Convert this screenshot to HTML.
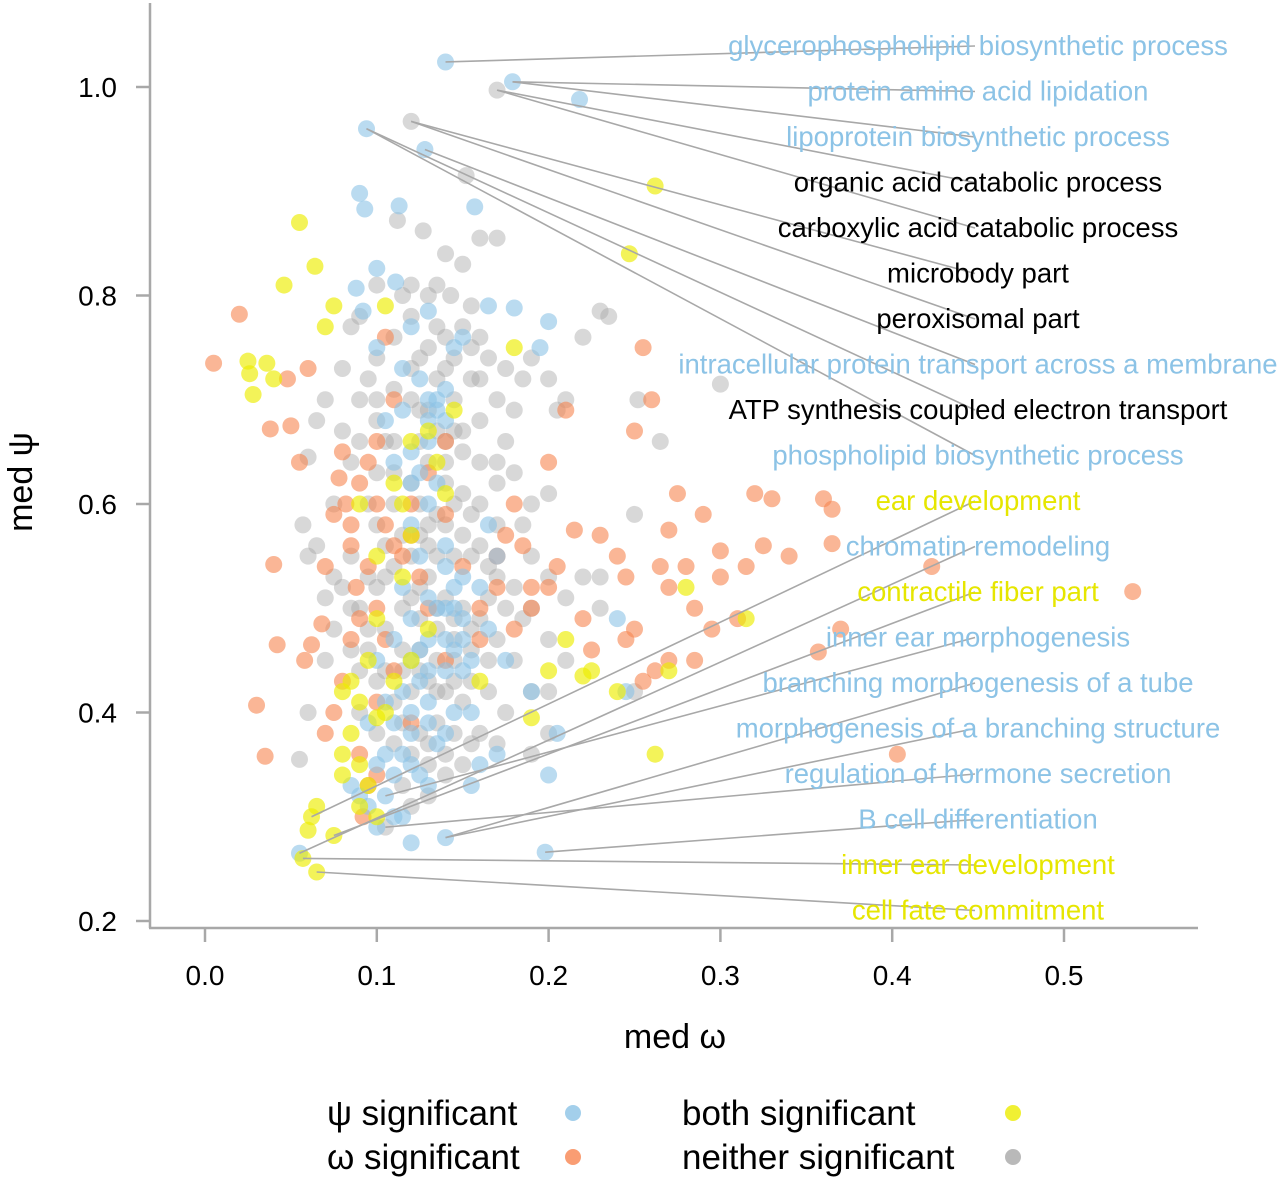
<!DOCTYPE html>
<html><head><meta charset="utf-8"><style>
html,body{margin:0;padding:0;background:#fff}
svg{display:block;font-family:"Liberation Sans",sans-serif}
</style></head><body>
<svg id="chart" width="1280" height="1180" viewBox="0 0 1280 1180" xmlns="http://www.w3.org/2000/svg">
<g id="points"></g>
<g id="leaders"></g>
<g id="axes"></g>
<g id="labels"></g>
<g id="legend"></g>
</svg>
<script>
const xTicks=[0.0,0.1,0.2,0.3,0.4,0.5];
const yTicks=[0.2,0.4,0.6,0.8,1.0];
const grayPts=[[0.17,0.997],[0.12,0.967],[0.152,0.915],[0.112,0.872],[0.127,0.862],[0.135,0.81],[0.14,0.84],[0.15,0.83],[0.16,0.855],[0.17,0.855],[0.155,0.79],[0.143,0.8],[0.09,0.78],[0.085,0.77],[0.1,0.74],[0.11,0.76],[0.12,0.78],[0.13,0.75],[0.14,0.73],[0.16,0.72],[0.17,0.7],[0.18,0.69],[0.19,0.74],[0.2,0.72],[0.21,0.7],[0.205,0.69],[0.22,0.76],[0.23,0.785],[0.235,0.78],[0.3,0.715],[0.252,0.70],[0.265,0.66],[0.07,0.7],[0.065,0.68],[0.06,0.645],[0.057,0.58],[0.065,0.56],[0.075,0.53],[0.07,0.51],[0.075,0.48],[0.07,0.45],[0.06,0.4],[0.055,0.355],[0.08,0.67],[0.085,0.64],[0.09,0.7],[0.1,0.68],[0.105,0.66],[0.11,0.63],[0.12,0.7],[0.13,0.69],[0.14,0.66],[0.15,0.65],[0.16,0.64],[0.17,0.62],[0.175,0.66],[0.18,0.63],[0.19,0.6],[0.2,0.61],[0.185,0.58],[0.17,0.58],[0.16,0.6],[0.15,0.61],[0.14,0.62],[0.13,0.58],[0.12,0.55],[0.13,0.56],[0.14,0.58],[0.15,0.57],[0.16,0.56],[0.17,0.53],[0.18,0.52],[0.19,0.55],[0.2,0.53],[0.21,0.51],[0.22,0.53],[0.23,0.53],[0.25,0.59],[0.25,0.42],[0.09,0.5],[0.1,0.52],[0.11,0.54],[0.12,0.51],[0.13,0.53],[0.14,0.51],[0.15,0.5],[0.16,0.49],[0.17,0.47],[0.18,0.45],[0.19,0.42],[0.2,0.42],[0.175,0.4],[0.165,0.42],[0.155,0.43],[0.145,0.43],[0.135,0.45],[0.125,0.46],[0.115,0.46],[0.105,0.48],[0.095,0.48],[0.085,0.46],[0.09,0.44],[0.1,0.43],[0.11,0.41],[0.12,0.42],[0.13,0.43],[0.14,0.42],[0.15,0.41],[0.16,0.38],[0.17,0.37],[0.2,0.38],[0.19,0.36],[0.15,0.35],[0.14,0.34],[0.13,0.35],[0.12,0.36],[0.11,0.37],[0.1,0.38],[0.09,0.4],[0.115,0.33],[0.12,0.31],[0.13,0.32],[0.105,0.29],[0.095,0.53],[0.105,0.56],[0.1,0.58],[0.11,0.6],[0.12,0.62],[0.13,0.64],[0.14,0.64],[0.15,0.67],[0.16,0.68],[0.17,0.64],[0.095,0.6],[0.085,0.55],[0.075,0.6],[0.08,0.73],[0.095,0.72],[0.06,0.55],[0.145,0.7],[0.155,0.72],[0.125,0.74],[0.115,0.8],[0.1,0.81],[0.135,0.77],[0.19,0.5],[0.2,0.47],[0.21,0.45],[0.23,0.5],
[0.125,0.6],[0.135,0.59],[0.145,0.6],[0.155,0.59],[0.125,0.57],[0.135,0.55],[0.145,0.55],[0.155,0.55],[0.125,0.52],[0.135,0.5],[0.145,0.49],[0.155,0.48],[0.125,0.49],[0.135,0.48],[0.145,0.47],[0.115,0.5],[0.115,0.57],[0.105,0.53],[0.115,0.44],[0.125,0.44],[0.135,0.42],[0.145,0.45],[0.155,0.46],[0.165,0.45],[0.165,0.51],[0.165,0.54],[0.175,0.5],[0.185,0.49],[0.125,0.66],[0.135,0.67],[0.145,0.67],[0.125,0.69],[0.135,0.72],[0.145,0.74],[0.155,0.75],[0.165,0.74],[0.175,0.73],[0.185,0.72],[0.12,0.73],[0.11,0.71],[0.1,0.7],[0.09,0.66],[0.1,0.63],[0.11,0.66],[0.125,0.38],[0.135,0.39],[0.145,0.38],[0.155,0.37],[0.13,0.37],[0.14,0.36],[0.115,0.39],[0.105,0.44],[0.095,0.46],[0.085,0.5],[0.08,0.52],[0.14,0.76],[0.15,0.77],[0.16,0.76],[0.13,0.8],[0.12,0.81]];
const orangePts=[[0.005,0.735],[0.02,0.782],[0.04,0.542],[0.042,0.465],[0.03,0.407],[0.035,0.358],[0.038,0.672],[0.05,0.675],[0.055,0.64],[0.048,0.72],[0.06,0.73],[0.058,0.45],[0.062,0.465],[0.068,0.485],[0.07,0.54],[0.075,0.59],[0.078,0.625],[0.08,0.65],[0.082,0.6],[0.085,0.56],[0.088,0.52],[0.09,0.49],[0.085,0.47],[0.08,0.43],[0.075,0.4],[0.07,0.38],[0.09,0.36],[0.095,0.33],[0.1,0.34],[0.092,0.3],[0.1,0.6],[0.105,0.58],[0.11,0.56],[0.1,0.5],[0.105,0.47],[0.11,0.44],[0.115,0.55],[0.12,0.57],[0.09,0.62],[0.095,0.64],[0.1,0.66],[0.105,0.76],[0.11,0.7],[0.12,0.6],[0.125,0.53],[0.13,0.5],[0.14,0.59],[0.15,0.54],[0.16,0.5],[0.17,0.52],[0.175,0.57],[0.18,0.6],[0.185,0.56],[0.19,0.5],[0.2,0.52],[0.205,0.54],[0.2,0.64],[0.21,0.69],[0.215,0.575],[0.22,0.49],[0.225,0.46],[0.23,0.57],[0.24,0.55],[0.245,0.53],[0.25,0.67],[0.255,0.75],[0.26,0.7],[0.265,0.54],[0.27,0.575],[0.275,0.61],[0.28,0.54],[0.285,0.5],[0.29,0.59],[0.295,0.48],[0.3,0.555],[0.3,0.53],[0.31,0.49],[0.315,0.54],[0.32,0.61],[0.325,0.56],[0.33,0.605],[0.34,0.55],[0.36,0.605],[0.365,0.595],[0.365,0.562],[0.37,0.48],[0.357,0.458],[0.423,0.54],[0.403,0.36],[0.54,0.516],[0.262,0.44],[0.27,0.45],[0.255,0.43],[0.245,0.47],[0.25,0.48],[0.27,0.52],[0.285,0.45],[0.14,0.66],[0.13,0.63],[0.1,0.41],[0.12,0.39],[0.14,0.45],[0.16,0.47],[0.18,0.48],[0.19,0.52],[0.17,0.55],[0.095,0.54],[0.085,0.58]];
const bluePts=[[0.14,1.024],[0.179,1.005],[0.218,0.988],[0.094,0.96],[0.128,0.94],[0.09,0.898],[0.093,0.883],[0.113,0.886],[0.157,0.885],[0.1,0.826],[0.088,0.807],[0.111,0.813],[0.12,0.77],[0.13,0.785],[0.092,0.785],[0.165,0.79],[0.18,0.788],[0.2,0.775],[0.195,0.75],[0.15,0.76],[0.145,0.75],[0.13,0.7],[0.125,0.72],[0.115,0.69],[0.135,0.69],[0.14,0.68],[0.13,0.66],[0.12,0.65],[0.11,0.64],[0.13,0.6],[0.12,0.58],[0.14,0.56],[0.125,0.55],[0.115,0.52],[0.13,0.51],[0.14,0.5],[0.15,0.49],[0.12,0.49],[0.11,0.47],[0.13,0.47],[0.145,0.46],[0.155,0.45],[0.14,0.44],[0.125,0.43],[0.115,0.42],[0.105,0.41],[0.13,0.41],[0.145,0.4],[0.155,0.4],[0.12,0.38],[0.135,0.37],[0.115,0.36],[0.1,0.35],[0.11,0.34],[0.105,0.32],[0.11,0.3],[0.1,0.29],[0.115,0.3],[0.09,0.32],[0.095,0.31],[0.12,0.275],[0.14,0.28],[0.055,0.265],[0.198,0.266],[0.16,0.35],[0.155,0.33],[0.17,0.36],[0.2,0.34],[0.205,0.38],[0.19,0.42],[0.175,0.45],[0.165,0.48],[0.16,0.52],[0.15,0.53],[0.165,0.58],[0.17,0.55],[0.085,0.33],[0.12,0.62],[0.105,0.68],[0.1,0.75],[0.115,0.73],[0.125,0.63],[0.135,0.62],[0.14,0.54],[0.1,0.45],[0.095,0.39],[0.125,0.34],[0.13,0.33],[0.145,0.52],[0.15,0.47],[0.12,0.4],[0.245,0.42],[0.24,0.49],[0.135,0.5],[0.125,0.46],[0.14,0.47],[0.13,0.44],[0.15,0.44],[0.12,0.45],[0.13,0.39],[0.14,0.38],[0.11,0.39],[0.12,0.35],[0.105,0.36],[0.135,0.7],[0.14,0.71],[0.13,0.68],[0.145,0.5]];
const yellowPts=[[0.055,0.87],[0.064,0.828],[0.046,0.81],[0.07,0.77],[0.075,0.79],[0.025,0.737],[0.026,0.725],[0.028,0.705],[0.036,0.735],[0.04,0.72],[0.262,0.905],[0.247,0.84],[0.105,0.79],[0.12,0.66],[0.11,0.62],[0.115,0.6],[0.12,0.57],[0.09,0.6],[0.1,0.55],[0.115,0.53],[0.13,0.67],[0.145,0.69],[0.135,0.64],[0.085,0.43],[0.08,0.42],[0.09,0.41],[0.1,0.395],[0.085,0.38],[0.08,0.36],[0.08,0.34],[0.09,0.35],[0.095,0.33],[0.1,0.3],[0.09,0.31],[0.065,0.31],[0.062,0.3],[0.06,0.287],[0.057,0.26],[0.065,0.247],[0.075,0.282],[0.105,0.4],[0.11,0.43],[0.12,0.45],[0.13,0.48],[0.2,0.44],[0.21,0.47],[0.22,0.435],[0.225,0.44],[0.24,0.42],[0.262,0.36],[0.27,0.44],[0.315,0.49],[0.28,0.52],[0.16,0.43],[0.19,0.395],[0.095,0.45],[0.1,0.49],[0.14,0.61],[0.18,0.75]];
const labelTexts=["glycerophospholipid biosynthetic process","protein amino acid lipidation","lipoprotein biosynthetic process","organic acid catabolic process","carboxylic acid catabolic process","microbody part","peroxisomal part","intracellular protein transport across a membrane","ATP synthesis coupled electron transport","phospholipid biosynthetic process","ear development","chromatin remodeling","contractile fiber part","inner ear morphogenesis","branching morphogenesis of a tube","morphogenesis of a branching structure","regulation of hormone secretion","B cell differentiation","inner ear development","cell fate commitment"];
const labelKinds=["b","b","b","n","n","n","n","b","n","b","y","b","y","b","b","b","b","b","y","y"];
const labelAnchors=[[0.14,1.024],[0.179,1.005],[0.179,1.005],[0.17,0.997],[0.17,0.997],[0.12,0.967],[0.12,0.967],[0.128,0.94],[0.094,0.96],[0.094,0.96],[0.062,0.3],[0.055,0.265],[0.075,0.282],[0.105,0.32],[0.14,0.28],[0.14,0.28],[0.105,0.29],[0.198,0.266],[0.057,0.26],[0.065,0.247]];

const SVGNS="http://www.w3.org/2000/svg";
const X0=205,XK=1718,Y1=87,YK=1042.5;
function sx(v){return X0+v*XK;}
function sy(v){return Y1+(1-v)*YK;}
function mk(tag,attrs,parent){const e=document.createElementNS(SVGNS,tag);for(const k in attrs)e.setAttribute(k,attrs[k]);parent.appendChild(e);return e;}
const cols={b:"#8cc3e6",o:"#f78550",y:"#ecec00",n:"#a8a8a8"};
const ops={b:0.6,o:0.6,y:0.65,n:0.45};
const txtCol={b:"#8cc3e6",y:"#e6e600",n:"#000"};
const P=document.getElementById('points');
function series(arr,k,name){
  arr.forEach(p=>{
    const c=mk('circle',{cx:sx(p[0]),cy:sy(p[1]),r:8.5,fill:cols[k],'fill-opacity':ops[k]},P);
    
    
  });
}
series(grayPts,'n','point-neither-significant');
series(orangePts,'o','point-omega-significant');
series(bluePts,'b','point-psi-significant');
series(yellowPts,'y','point-both-significant');

const L=document.getElementById('leaders'),LB=document.getElementById('labels');
labelTexts.forEach((t,i)=>{
  const ly=46+i*45.5;
  const a=labelAnchors[i];
  const ln=mk('line',{x1:sx(a[0]),y1:sy(a[1]),x2:975,y2:ly,stroke:"#a8a8a8","stroke-width":1.6},L);
  
  
  const tx=mk('text',{x:978,y:ly+9,'text-anchor':'middle','font-size':27.5,fill:txtCol[labelKinds[i]]},LB);
  tx.textContent=t;
  
  
});

const A=document.getElementById('axes');
const ya=mk('line',{x1:150,y1:3,x2:150,y2:928,stroke:"#a8a8a8","stroke-width":2.5},A);


const xa=mk('line',{x1:149,y1:928,x2:1198,y2:928,stroke:"#a8a8a8","stroke-width":2.5},A);


yTicks.forEach(v=>{
  const tk=mk('line',{x1:136,y1:sy(v),x2:150,y2:sy(v),stroke:"#a8a8a8","stroke-width":2.5},A);
  
  
  const tl=mk('text',{x:117,y:sy(v)+10,'text-anchor':'end','font-size':28,fill:"#000"},A);
  tl.textContent=v.toFixed(1);
  
  
});
xTicks.forEach(v=>{
  const tk=mk('line',{x1:sx(v),y1:928,x2:sx(v),y2:942,stroke:"#a8a8a8","stroke-width":2.5},A);
  
  
  const tl=mk('text',{x:sx(v),y:985,'text-anchor':'middle','font-size':28,fill:"#000"},A);
  tl.textContent=v.toFixed(1);
  
  
});
const xt=mk('text',{x:675,y:1048,'text-anchor':'middle','font-size':34,fill:"#000",'xml:space':'preserve'},A);
xt.textContent="med  ω";


const yt=mk('text',{x:0,y:0,'text-anchor':'middle','font-size':34,fill:"#000",transform:"translate(32,482) rotate(-90)"},A);
yt.textContent="med  ψ";



const G=document.getElementById('legend');
const legText=["ψ significant","ω significant","both significant","neither significant"];
const legKind=["b","o","y","n"];
legText.forEach((t,i)=>{
  const col=i<2?0:1, row=i%2;
  const ty=1125+row*44;
  const tx=mk('text',{x:col?682:327,y:ty,'font-size':35,fill:"#000"},G);
  tx.textContent=t;
  
  
  const d=mk('circle',{cx:col?1013:573,cy:ty-12,r:8,fill:cols[legKind[i]],'fill-opacity':0.8},G);
  
  
});
</script>
</body></html>
